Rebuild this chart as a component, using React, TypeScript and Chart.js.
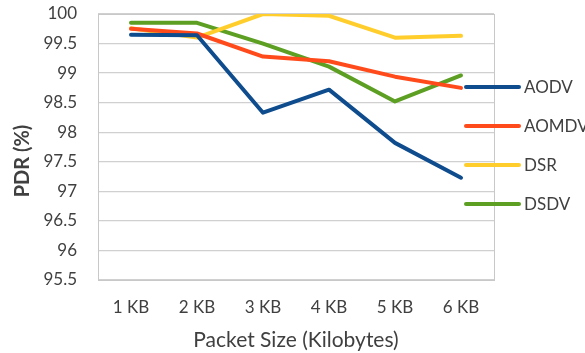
import React, { useEffect, useRef } from "react";
import { Chart, registerables } from "chart.js";

Chart.register(...registerables);

const packetSizes = ["1 KB", "2 KB", "3 KB", "4 KB", "5 KB", "6 KB"];
const aodv = [99.65, 99.64, 98.33, 98.72, 97.82, 97.23];
const aomdv = [99.75, 99.67, 99.28, 99.2, 98.94, 98.75];
const dsr = [99.76, 99.6, 100, 99.97, 99.6, 99.63];
const dsdv = [99.85, 99.85, 99.5, 99.11, 98.52, 98.96];

const protocols = ["AODV", "AOMDV", "DSR", "DSDV"];
const colors = ["#0E4C8E", "#FF4B1C", "#FFCE2C", "#5C9F22"];

const FONT = "Lato, 'Open Sans', sans-serif";
const TEXT = "#404040";

// Box around the plot area, the y-axis title and a line-swatch legend on the right
const framePlugin = {
  id: "frame",
  beforeDatasetsDraw(chart: any) {
    const { ctx, chartArea } = chart;
    ctx.save();
    ctx.strokeStyle = "#C8C8C8";
    ctx.lineWidth = 1;
    ctx.strokeRect(
      Math.round(chartArea.left) + 0.5,
      Math.round(chartArea.top) + 0.5,
      Math.round(chartArea.right - chartArea.left),
      Math.round(chartArea.bottom - chartArea.top)
    );
    ctx.restore();
  },
  afterDraw(chart: any) {
    const { ctx, chartArea } = chart;
    ctx.save();
    ctx.translate(23, 161);
    ctx.rotate(-Math.PI / 2);
    ctx.font = `bold 20px ${FONT}`;
    ctx.fillStyle = TEXT;
    ctx.textAlign = "center";
    ctx.textBaseline = "middle";
    ctx.fillText("PDR (%)", 0, 0);
    ctx.restore();

    ctx.save();
    const x0 = chartArea.right - 28;
    const rowTop = 87;
    const rowGap = 39;
    chart.data.datasets.forEach((ds: any, i: number) => {
      const y = rowTop + i * rowGap;
      ctx.strokeStyle = ds.borderColor;
      ctx.lineWidth = 4;
      ctx.lineCap = "round";
      ctx.beginPath();
      ctx.moveTo(x0, y);
      ctx.lineTo(x0 + 53, y);
      ctx.stroke();
      ctx.font = `17px ${FONT}`;
      ctx.fillStyle = TEXT;
      ctx.textAlign = "left";
      ctx.textBaseline = "middle";
      ctx.fillText(ds.label, x0 + 58, y + 1);
    });
    ctx.restore();
  },
};

export default function App() {
  const canvasRef = useRef<HTMLCanvasElement | null>(null);

  useEffect(() => {
    if (!canvasRef.current) return;
    const series = [aodv, aomdv, dsr, dsdv];
    const chart = new Chart(canvasRef.current, {
      type: "line",
      data: {
        labels: packetSizes,
        datasets: series.map((values, i) => ({
          label: protocols[i],
          data: values,
          borderColor: colors[i],
          backgroundColor: colors[i],
          borderWidth: 4,
          pointRadius: 0,
          pointHoverRadius: 0,
          tension: 0,
          borderCapStyle: "round" as const,
          borderJoinStyle: "round" as const,
        })),
      },
      options: {
        animation: false,
        responsive: true,
        maintainAspectRatio: false,
        layout: { autoPadding: false, padding: { left: 0, right: 91, top: 14, bottom: 0 } },
        plugins: {
          legend: { display: false },
          title: { display: false },
          tooltip: { enabled: false },
        },
        scales: {
          x: {
            offset: true,
            grid: { display: false, drawTicks: false },
            border: { display: false },
            ticks: {
              color: TEXT,
              font: { family: FONT, size: 17 },
              padding: 17,
              maxRotation: 0,
            },
            title: {
              display: true,
              text: "Packet Size (Kilobytes)",
              color: TEXT,
              font: { family: FONT, size: 21 },
              padding: { top: 4, bottom: 0 },
            },
            afterFit: (scale: any) => {
              scale.height = 73;
              scale.paddingTop = 0;
              scale.paddingBottom = 0;
            },
          },
          y: {
            min: 95.5,
            max: 100,
            grid: { color: "#D0D0D0", drawTicks: false, lineWidth: 1.3 },
            border: { display: false },
            ticks: {
              stepSize: 0.5,
              color: TEXT,
              font: { family: FONT, size: 17 },
              padding: 21,
              callback: (v: any) => String(Number(v)),
            },
            afterFit: (scale: any) => {
              scale.width = 98;
              scale.paddingTop = 0;
              scale.paddingBottom = 0;
            },
          },
        },
      },
      plugins: [framePlugin],
    });
    return () => chart.destroy();
  }, []);

  return (
    <div style={{ position: "fixed", left: 0, top: 0, width: 585, height: 353, background: "#fff" }}>
      <canvas ref={canvasRef} />
    </div>
  );
}
